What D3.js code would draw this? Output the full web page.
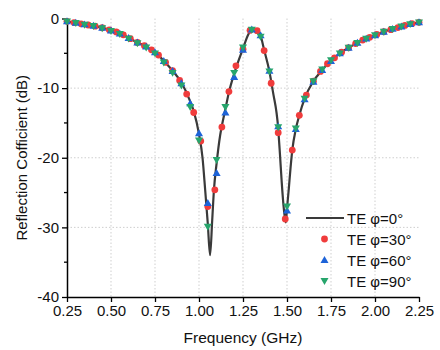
<!DOCTYPE html>
<html>
<head>
<meta charset="utf-8">
<script src="https://cdn.jsdelivr.net/npm/d3@7"></script>
<style>
  body { margin: 0; background: #fff; }
  svg text { font-family: "Liberation Sans", Arial, sans-serif; fill: #111; }
</style>
</head>
<body>
<div id="chart"></div>
<script>
// simulated line, TE phi=0
const lineFreq = [0.25, 0.30, 0.35, 0.40, 0.45, 0.50, 0.55, 0.60, 0.65, 0.70, 0.75, 0.80, 0.85, 0.90, 0.95, 0.97,
  1.00, 1.02, 1.035, 1.05, 1.063, 1.075, 1.085, 1.10, 1.12, 1.13, 1.15, 1.17, 1.20, 1.25, 1.28, 1.30, 1.32, 1.35,
  1.37, 1.40, 1.42, 1.45, 1.46, 1.47, 1.48, 1.493, 1.50, 1.51, 1.52, 1.53, 1.55, 1.57, 1.60, 1.65, 1.70, 1.75,
  1.80, 1.85, 1.90, 1.95, 2.00, 2.05, 2.10, 2.15, 2.20, 2.25];
const lineDb = [-0.40, -0.62, -0.85, -1.05, -1.33, -1.70, -2.10, -2.75, -3.45, -4.00, -4.80, -6.10, -7.50, -9.20, -11.9, -13.3,
  -16.6, -20.0, -24.6, -29.5, -34.0, -29.0, -24.6, -20.8, -16.8, -15.4, -13.0, -10.6, -7.9, -4.3, -2.3, -1.55, -1.6, -2.5,
  -4.5, -7.6, -10.5, -15.8, -19.5, -23.5, -26.8, -29.3, -27.3, -24.5, -21.5, -18.9, -15.9, -13.9, -11.5, -9.0, -7.4, -6.0,
  -5.0, -4.2, -3.5, -2.9, -2.4, -1.9, -1.5, -1.15, -0.8, -0.55];

// TE phi=30 (0.04 GHz step)
const redFreq = [0.25, 0.29, 0.33, 0.37, 0.41, 0.45, 0.49, 0.53, 0.57, 0.61, 0.65, 0.69, 0.73, 0.77, 0.81, 0.85, 0.89,
  0.93, 0.97, 1.01, 1.05, 1.09, 1.13, 1.17, 1.21, 1.25, 1.29, 1.33, 1.37, 1.41, 1.45, 1.49, 1.53, 1.57, 1.61, 1.65,
  1.69, 1.73, 1.77, 1.81, 1.85, 1.89, 1.93, 1.97, 2.01, 2.05, 2.09, 2.13, 2.17, 2.21, 2.25];
const redDb = [-0.40, -0.58, -0.76, -0.93, -1.10, -1.33, -1.62, -1.93, -2.35, -2.90, -3.45, -3.90, -4.50, -5.25, -6.30, -7.50, -8.90,
  -10.85, -13.5, -17.6, -27.0, -24.6, -15.6, -10.5, -6.8, -4.4, -1.7, -1.75, -4.6, -9.3, -16.4, -28.8, -18.9, -13.9, -11.0, -9.0,
  -7.6, -6.5, -5.65, -4.85, -4.2, -3.6, -3.1, -2.7, -2.3, -1.9, -1.6, -1.3, -1.0, -0.75, -0.55];

// TE phi=60 and phi=90 (0.05 GHz step)
const triFreq = [0.25, 0.30, 0.35, 0.40, 0.45, 0.50, 0.55, 0.60, 0.65, 0.70, 0.75, 0.80, 0.85, 0.90, 0.95, 1.00, 1.05,
  1.10, 1.15, 1.20, 1.25, 1.30, 1.35, 1.40, 1.45, 1.50, 1.55, 1.60, 1.65, 1.70, 1.75, 1.80, 1.85, 1.90, 1.95, 2.00,
  2.05, 2.10, 2.15, 2.20, 2.25];
const blueDb = [-0.40, -0.62, -0.85, -1.05, -1.35, -1.72, -2.15, -2.80, -3.45, -4.05, -4.85, -6.10, -7.55, -9.30, -12.2, -16.5, -26.5,
  -22.2, -13.5, -8.4, -4.5, -1.6, -2.4, -7.5, -15.5, -27.6, -15.9, -11.6, -9.1, -7.4, -6.1, -5.0, -4.2, -3.5, -2.9, -2.4,
  -1.9, -1.5, -1.15, -0.8, -0.55];
const greenDb = [-0.42, -0.65, -0.88, -1.08, -1.40, -1.78, -2.22, -2.88, -3.55, -4.15, -5.00, -6.30, -7.80, -9.60, -12.7, -17.5, -29.9,
  -20.3, -12.7, -7.8, -4.15, -1.6, -2.6, -7.6, -15.6, -27.0, -15.8, -11.5, -9.0, -7.3, -6.0, -5.0, -4.2, -3.5, -2.9, -2.4,
  -1.9, -1.5, -1.15, -0.8, -0.55];

const xTicks = [0.25, 0.50, 0.75, 1.00, 1.25, 1.50, 1.75, 2.00, 2.25];
const yTicks = [0, -10, -20, -30, -40];
const yMinor = [-5, -15, -25, -35];
const legendLabels = ["TE \u03c6=0\u00b0", "TE \u03c6=30\u00b0", "TE \u03c6=60\u00b0", "TE \u03c6=90\u00b0"];

const W = 440, H = 350;
const margin = { top: 18.5, right: 21, bottom: 53, left: 67 };
const iw = W - margin.left - margin.right;
const ih = H - margin.top - margin.bottom;

const colors = { line: "#3a3a3a", red: "#f03c3c", blue: "#1d63d8", green: "#27a56c" };

const svg = d3.select("#chart").append("svg")
  .attr("width", W)
  .attr("height", H);

const g = svg.append("g").attr("transform", `translate(${margin.left},${margin.top})`);

const x = d3.scaleLinear().domain([0.25, 2.25]).range([0, iw]);
const y = d3.scaleLinear().domain([-40, 0]).range([ih, 0]);

// grid
g.append("g").selectAll("line")
  .data(xTicks.slice(1, -1))
  .enter().append("line")
  .attr("x1", d => x(d)).attr("x2", d => x(d))
  .attr("y1", 0).attr("y2", ih)
  .attr("stroke", "#cfcfcf").attr("stroke-width", 1).attr("stroke-dasharray", "1.5,2");
g.append("g").selectAll("line")
  .data(yTicks.slice(1, -1))
  .enter().append("line")
  .attr("x1", 0).attr("x2", iw)
  .attr("y1", d => y(d)).attr("y2", d => y(d))
  .attr("stroke", "#cfcfcf").attr("stroke-width", 1).attr("stroke-dasharray", "1.5,2");

// axes
const xAxis = g.append("g").attr("transform", `translate(0,${ih})`)
  .call(d3.axisBottom(x).tickValues(xTicks).tickFormat(d3.format(".2f")).tickSize(5).tickPadding(3).tickSizeOuter(0));
const yAxis = g.append("g")
  .call(d3.axisLeft(y).tickValues(yTicks).tickFormat(d => d === 0 ? "0" : "-" + Math.abs(d)).tickSize(5).tickPadding(3).tickSizeOuter(0));
g.append("g").selectAll("line")
  .data(yMinor)
  .enter().append("line")
  .attr("x1", -3).attr("x2", 0)
  .attr("y1", d => y(d)).attr("y2", d => y(d))
  .attr("stroke", "#000").attr("stroke-width", 1.3);

[xAxis, yAxis].forEach(a => {
  a.select(".domain").attr("stroke", "#000").attr("stroke-width", 1.5);
  a.selectAll(".tick line").attr("stroke", "#000").attr("stroke-width", 1.3);
  a.selectAll(".tick text").attr("font-size", 15).attr("fill", "#111")
    .attr("font-family", "Liberation Sans, Arial, sans-serif");
});

// axis titles
svg.append("text")
  .attr("x", margin.left + iw / 2).attr("y", 343)
  .attr("text-anchor", "middle").attr("font-size", 15.5)
  .text("Frequency (GHz)");
svg.append("text")
  .attr("transform", `translate(27,${margin.top + ih / 2}) rotate(-90)`)
  .attr("text-anchor", "middle").attr("font-size", 15)
  .text("Reflection Cofficient (dB)");

// line
const lineData = lineFreq.map((f, i) => [f, lineDb[i]]);
const lineGen = d3.line().x(d => x(d[0])).y(d => y(d[1])).curve(d3.curveMonotoneX);
g.append("path")
  .datum(lineData)
  .attr("fill", "none")
  .attr("stroke", colors.line)
  .attr("stroke-width", 2.2)
  .attr("stroke-linejoin", "round")
  .attr("d", lineGen);

// markers
const triUp = d3.symbol().type(d3.symbolTriangle).size(28);
g.append("g").selectAll("circle")
  .data(redFreq.map((f, i) => [f, redDb[i]]))
  .enter().append("circle")
  .attr("cx", d => x(d[0])).attr("cy", d => y(d[1]))
  .attr("r", 3.4).attr("fill", colors.red);
g.append("g").selectAll("path")
  .data(triFreq.map((f, i) => [f, blueDb[i]]))
  .enter().append("path")
  .attr("d", triUp)
  .attr("transform", d => `translate(${x(d[0])},${y(d[1]) + 0.6})`)
  .attr("fill", colors.blue);
g.append("g").selectAll("path")
  .data(triFreq.map((f, i) => [f, greenDb[i]]))
  .enter().append("path")
  .attr("d", triUp)
  .attr("transform", d => `translate(${x(d[0])},${y(d[1]) - 0.6}) rotate(180)`)
  .attr("fill", colors.green);

// legend
const lg = svg.append("g").attr("transform", "translate(306,218)");
const rowH = 21;
lg.append("line").attr("x1", 0).attr("x2", 38).attr("y1", 0).attr("y2", 0)
  .attr("stroke", colors.line).attr("stroke-width", 2.2);
lg.append("circle").attr("cx", 18.5).attr("cy", rowH).attr("r", 3.4).attr("fill", colors.red);
lg.append("path").attr("d", triUp).attr("transform", `translate(18.5,${2 * rowH + 0.6})`).attr("fill", colors.blue);
lg.append("path").attr("d", triUp).attr("transform", `translate(18.5,${3 * rowH - 0.6}) rotate(180)`).attr("fill", colors.green);
lg.selectAll("text.lab")
  .data(legendLabels)
  .enter().append("text")
  .attr("class", "lab")
  .attr("x", 41).attr("y", (d, i) => i * rowH + 5.5)
  .attr("font-size", 15)
  .text(d => d);
</script>
</body>
</html>
